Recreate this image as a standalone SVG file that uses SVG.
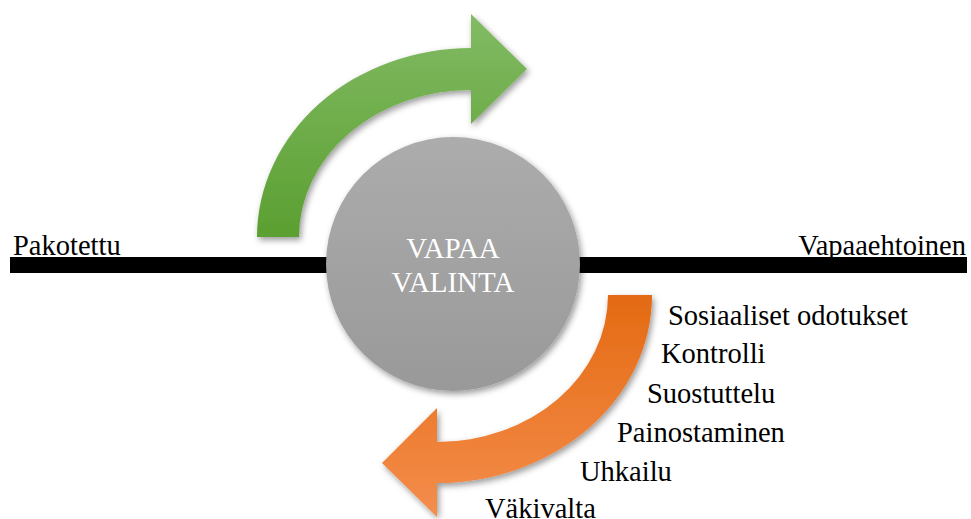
<svg xmlns="http://www.w3.org/2000/svg" width="971" height="519" viewBox="0 0 971 519">
  <style>
    .lbl { font-family: 'Liberation Serif', 'Times New Roman', Times, 'DejaVu Serif', serif; font-size: 28.5px; fill: #000; }
    .ctr { font-family: 'Liberation Serif', 'Times New Roman', Times, 'DejaVu Serif', serif; font-size: 29px; fill: #fff; text-anchor: middle; }
  </style>
  <defs>
    <linearGradient id="gGreen" x1="0" y1="0" x2="0" y2="1">
      <stop offset="0" stop-color="#82bb64"/>
      <stop offset="1" stop-color="#5b9f31"/>
    </linearGradient>
    <linearGradient id="gOrange" x1="0" y1="0" x2="0" y2="1">
      <stop offset="0" stop-color="#e46a12"/>
      <stop offset="1" stop-color="#f48d4c"/>
    </linearGradient>
    <linearGradient id="gGray" x1="0" y1="0" x2="0" y2="1">
      <stop offset="0" stop-color="#acacac"/>
      <stop offset="1" stop-color="#999999"/>
    </linearGradient>
    <filter id="shadow" x="-20%" y="-20%" width="140%" height="140%">
      <feDropShadow dx="2" dy="3" stdDeviation="3" flood-color="#000" flood-opacity="0.4"/>
    </filter>
  </defs>

  <g id="connectors">
    <rect id="axis" x="10" y="257" width="957" height="16" fill="#000"/>
    <path id="green-arrow" filter="url(#shadow)" fill="url(#gGreen)"
      d="M257,237 A214,189 0 0 1 471,48 L471,14 L527,69 L471,124 L471,90 A172,147 0 0 0 299,237 Z"/>
    <path id="orange-arrow" filter="url(#shadow)" fill="url(#gOrange)"
      d="M652,295 A215,188 0 0 1 437,483 L437,517 L382,463 L437,408 L437,442 A171,147 0 0 0 608,295 Z"/>
  </g>

  <g id="vapaa-valinta">
    <circle cx="453" cy="264" r="127" fill="url(#gGray)" filter="url(#shadow)"/>
    <text class="ctr" x="453" y="258" font-family="Liberation Serif, serif">VAPAA</text>
    <text class="ctr" x="453" y="292" font-family="Liberation Serif, serif">VALINTA</text>
  </g>

  <g id="pakotettu">
    <text class="lbl" x="13" y="255">Pakotettu</text>
  </g>
  <g id="vapaaehtoinen">
    <text class="lbl" x="966" y="255" text-anchor="end">Vapaaehtoinen</text>
  </g>

  <g id="list">
    <text class="lbl" x="668" y="325">Sosiaaliset odotukset</text>
    <text class="lbl" x="661" y="363">Kontrolli</text>
    <text class="lbl" x="647" y="403">Suostuttelu</text>
    <text class="lbl" x="617" y="442">Painostaminen</text>
    <text class="lbl" x="580" y="481">Uhkailu</text>
    <text class="lbl" x="485" y="518">Väkivalta</text>
  </g>
</svg>
